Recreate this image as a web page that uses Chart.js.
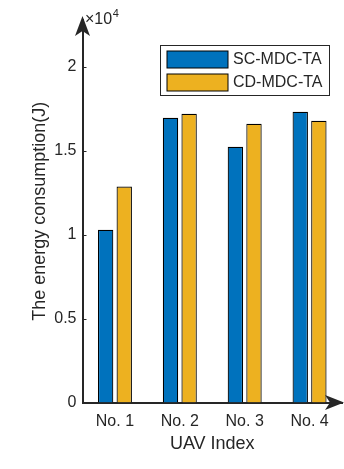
<!DOCTYPE html>
<html>
<head>
<meta charset="utf-8">
<script src="https://cdn.jsdelivr.net/npm/chart.js@4"></script>
<style>
  html, body { margin: 0; padding: 0; background: #fff; }
  #wrap { width: 344px; height: 469px; position: relative; }
</style>
</head>
<body>
<div id="wrap"><canvas id="energia-grafica"></canvas></div>
<script>
const categorias = ['No. 1', 'No. 2', 'No. 3', 'No. 4'];
const scMdcTa = [10300, 16970, 15240, 17330];
const cdMdcTa = [12870, 17210, 16610, 16790];
const yTicks = [0, 5000, 10000, 15000, 20000];
const yTickLabels = ['0', '0.5', '1', '1.5', '2'];
const series = ['SC-MDC-TA', 'CD-MDC-TA'];

(function () {
    const gris = '#262626';
    const azul = '#0072BD';
    const naranja = '#EDB120';
    const fuente = '"Liberation Sans", Arial, Helvetica, sans-serif';

    // flechas, marcas internas, x10^4 y la leyenda en su caja
    const decoracion = {
        id: 'decoracion',
        afterDraw(chart) {
            const ctx = chart.ctx;
            const area = chart.chartArea;
            const y = chart.scales.y;
            ctx.save();
            ctx.fillStyle = gris;
            ctx.strokeStyle = gris;

            // marcas hacia dentro
            ctx.lineWidth = 1;
            y.ticks.forEach(t => {
                const py = Math.round(y.getPixelForValue(t.value)) + 0.5;
                ctx.beginPath();
                ctx.moveTo(area.left, py);
                ctx.lineTo(area.left + 4, py);
                ctx.stroke();
            });

            // flecha eje y
            const ax = area.left;
            ctx.beginPath();
            ctx.moveTo(ax, 16);
            ctx.lineTo(ax - 7.5, 36);
            ctx.lineTo(ax, 31);
            ctx.lineTo(ax + 7.5, 36);
            ctx.closePath();
            ctx.fill();

            // flecha eje x
            const by = area.bottom;
            ctx.beginPath();
            ctx.moveTo(344, by);
            ctx.lineTo(325, by - 7.5);
            ctx.lineTo(330, by);
            ctx.lineTo(325, by + 7.5);
            ctx.closePath();
            ctx.fill();

            // x10^4
            ctx.textBaseline = 'alphabetic';
            ctx.textAlign = 'left';
            ctx.font = '16px ' + fuente;
            ctx.fillText('\u00d710', 85, 24);
            const w = ctx.measureText('\u00d710').width;
            ctx.font = '11px ' + fuente;
            ctx.fillText('4', 85 + w + 0.5, 17);

            // leyenda
            ctx.fillStyle = '#fff';
            ctx.fillRect(160.5, 45.5, 169, 50);
            ctx.lineWidth = 1;
            ctx.strokeStyle = gris;
            ctx.strokeRect(160.5, 45.5, 169, 50);
            const filas = [51, 74];
            chart.data.datasets.forEach((ds, i) => {
                ctx.fillStyle = ds.backgroundColor;
                ctx.fillRect(167, filas[i], 61, 17);
                ctx.strokeStyle = '#000';
                ctx.strokeRect(167, filas[i], 61, 17);
                ctx.fillStyle = gris;
                ctx.font = '16px ' + fuente;
                ctx.textBaseline = 'middle';
                ctx.fillText(ds.label, 233, filas[i] + 9);
            });
            ctx.restore();
        }
    };

    const ctx = document.getElementById('energia-grafica').getContext('2d');

    const myChart = new Chart(ctx, {
        type: 'bar',
        data: {
            labels: categorias,
            datasets: [{
                label: series[0],
                data: scMdcTa,
                backgroundColor: azul,
                borderColor: '#000',
                borderWidth: 1.2
            }, {
                label: series[1],
                data: cdMdcTa,
                backgroundColor: naranja,
                borderColor: '#000',
                borderWidth: 1.2
            }]
        },
        options: {
            responsive: true,
            maintainAspectRatio: false,
            animation: false,
            layout: {
                padding: { top: 20, right: 2, left: 0, bottom: 0 }
            },
            datasets: {
                bar: {
                    categoryPercentage: 0.574,
                    barPercentage: 0.826
                }
            },
            scales: {
                x: {
                    grid: { display: false, drawTicks: false },
                    border: { color: gris, width: 2 },
                    ticks: {
                        color: gris,
                        padding: 9,
                        font: { family: fuente, size: 16 }
                    },
                    title: {
                        display: true,
                        text: 'UAV Index',
                        color: gris,
                        font: { family: fuente, size: 18 },
                        padding: { top: 0, bottom: 14 }
                    },
                    afterFit(scale) { scale.height = 66.5; }
                },
                y: {
                    min: 0,
                    max: 22800,
                    grid: { display: false, drawTicks: false },
                    border: { color: gris, width: 2 },
                    afterBuildTicks(scale) {
                        scale.ticks = yTicks.map(v => ({ value: v }));
                    },
                    ticks: {
                        color: gris,
                        padding: 6,
                        font: { family: fuente, size: 16 },
                        callback: (value) => yTickLabels[yTicks.indexOf(value)]
                    },
                    title: {
                        display: true,
                        text: 'The energy consumption(J)',
                        color: gris,
                        font: { family: fuente, size: 18 },
                        padding: { top: 29, bottom: 0 }
                    },
                    afterFit(scale) { scale.width = 82.5; }
                }
            },
            plugins: {
                legend: { display: false },
                tooltip: { enabled: false }
            }
        },
        plugins: [decoracion]
    });
})();
</script>
</body>
</html>
